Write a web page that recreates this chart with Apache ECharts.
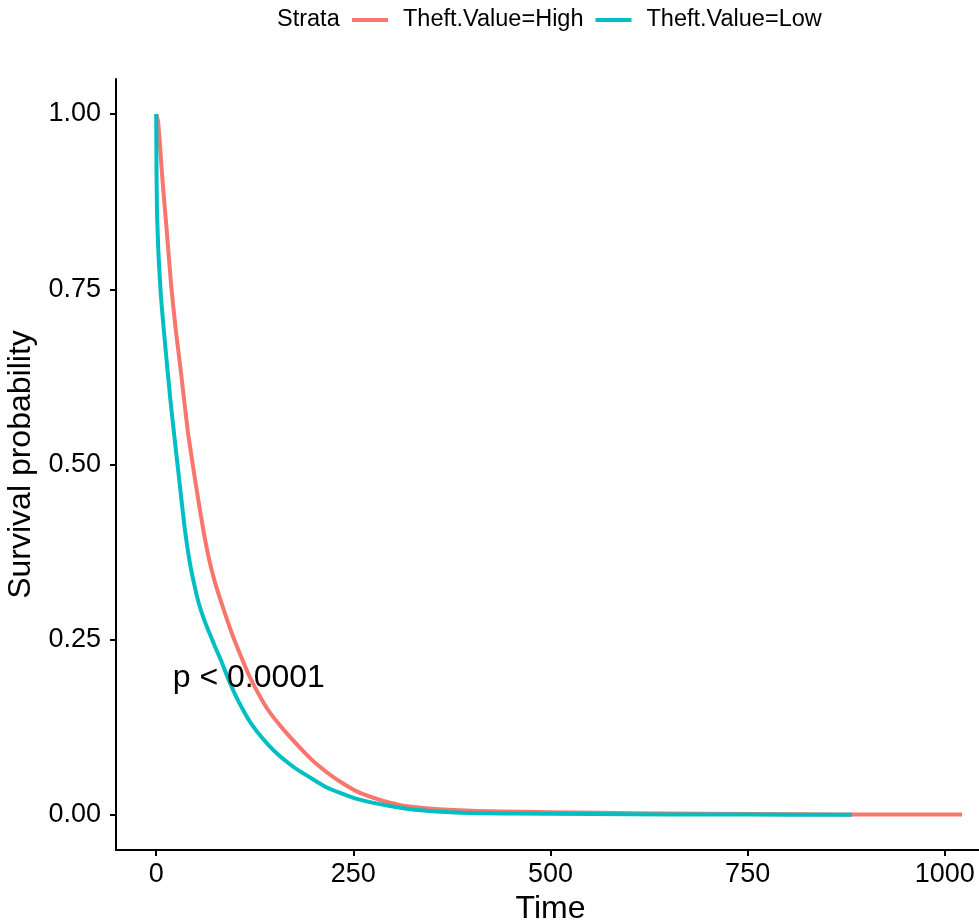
<!DOCTYPE html>
<html>
<head>
<meta charset="utf-8">
<script src="https://cdn.jsdelivr.net/npm/echarts@6/dist/echarts.min.js"></script>
<style>
  html, body { margin: 0; padding: 0; background: #ffffff; }
  #chart { width: 979px; height: 924px; }
</style>
</head>
<body>
<div id="chart"></div>
<script>
// ---- Data ----
const seriesNames = ['Theft.Value=High', 'Theft.Value=Low'];
const legendTitle = 'Strata';

const timeHigh = [0, 2.5, 8, 13.6, 19, 25, 31, 40, 47, 53, 60, 67, 73.5, 82, 95, 109, 119, 140, 162, 184, 200, 221, 234, 247, 259, 285, 310, 350, 400, 437, 500, 564, 648, 750, 880, 1022];
const survHigh = [1.0, 0.988, 0.905, 0.83, 0.755, 0.69, 0.635, 0.548, 0.495, 0.452, 0.405, 0.365, 0.336, 0.305, 0.262, 0.222, 0.196, 0.153, 0.121, 0.094, 0.076, 0.057, 0.047, 0.038, 0.031, 0.021, 0.014, 0.009, 0.006, 0.005, 0.004, 0.003, 0.002, 0.0012, 0.0008, 0.0005];

const timeLow = [0, 0.3, 1, 3, 6, 10, 18, 24, 30, 36, 42, 48, 54, 61, 68, 75, 82, 90, 100, 110, 120, 135, 150, 170, 184, 200, 215, 234, 251, 268, 300, 331, 380, 450, 550, 650, 750, 882];
const survLow = [1.0, 0.93, 0.86, 0.797, 0.74, 0.687, 0.592, 0.53, 0.47, 0.41, 0.364, 0.33, 0.302, 0.278, 0.258, 0.239, 0.221, 0.198, 0.172, 0.15, 0.131, 0.109, 0.091, 0.072, 0.061, 0.05, 0.04, 0.031, 0.024, 0.019, 0.012, 0.007, 0.0035, 0.002, 0.0012, 0.0008, 0.0005, 0.0003];

const xTicks = [0, 250, 500, 750, 1000];
const yTicks = [0, 0.25, 0.5, 0.75, 1.0];
const pText = 'p < 0.0001';
const pPos = [21, 0.195];

// ---- Chart ----
const FONT = "'Liberation Sans', Arial, sans-serif";
const toPairs = (t, s) => t.map((v, i) => [v, s[i]]);

const chart = echarts.init(document.getElementById('chart'), null, { renderer: 'canvas' });

const axisCommon = {
  axisLine: { show: true, onZero: false, lineStyle: { color: '#000000', width: 2 } },
  axisTick: { show: true, length: 6, lineStyle: { color: '#000000', width: 2 } },
  splitLine: { show: false },
  nameTextStyle: { color: '#000000', fontSize: 32, fontFamily: FONT }
};

const option = {
  backgroundColor: '#ffffff',
  animation: false,
  title: {
    text: legendTitle,
    left: 277,
    top: 7,
    padding: 0,
    textStyle: { color: '#000000', fontSize: 23.5, fontWeight: 'normal', fontFamily: FONT, lineHeight: 26 }
  },
  legend: {
    data: seriesNames,
    left: 352,
    top: 7,
    padding: 0,
    icon: 'rect',
    itemWidth: 36,
    itemHeight: 4,
    itemGap: 12,
    textStyle: { color: '#000000', fontSize: 23.5, fontFamily: FONT, padding: [0, 0, 0, 10], lineHeight: 26 }
  },
  grid: {
    left: 116,
    top: 79,
    bottom: 74,
    right: -6,
    containLabel: false,
    outerBoundsMode: 'none'
  },
  xAxis: Object.assign({}, axisCommon, {
    type: 'value',
    min: -51,
    max: 1051,
    name: 'Time',
    nameLocation: 'middle',
    nameGap: 43,
    axisTick: Object.assign({}, axisCommon.axisTick, { customValues: xTicks }),
    axisLabel: {
      customValues: xTicks,
      margin: 11,
      color: '#000000',
      fontSize: 27,
      fontFamily: FONT,
      formatter: v => String(v)
    }
  }),
  yAxis: Object.assign({}, axisCommon, {
    type: 'value',
    min: -0.05,
    max: 1.05,
    name: 'Survival probability',
    nameLocation: 'middle',
    nameGap: 68,
    axisTick: Object.assign({}, axisCommon.axisTick, { customValues: yTicks }),
    axisLabel: {
      customValues: yTicks,
      margin: 15,
      color: '#000000',
      fontSize: 27,
      fontFamily: FONT,
      formatter: v => v.toFixed(2)
    }
  }),
  series: [
    {
      name: seriesNames[0],
      type: 'line',
      data: toPairs(timeHigh, survHigh),
      showSymbol: false,
      smooth: 0.2,
      color: '#F8766D',
      lineStyle: { color: '#F8766D', width: 4, join: 'round' },
      z: 2
    },
    {
      name: seriesNames[1],
      type: 'line',
      data: toPairs(timeLow, survLow),
      showSymbol: false,
      smooth: 0.2,
      color: '#00BFC4',
      lineStyle: { color: '#00BFC4', width: 4, join: 'round' },
      z: 3
    },
    {
      name: 'pvalue',
      type: 'scatter',
      data: [pPos],
      symbolSize: 0,
      silent: true,
      z: 5,
      label: {
        show: true,
        formatter: pText,
        position: 'right',
        distance: 0,
        align: 'left',
        verticalAlign: 'middle',
        color: '#000000',
        opacity: 1,
        fontSize: 32,
        fontFamily: FONT
      }
    }
  ]
};

chart.setOption(option);
</script>
</body>
</html>
